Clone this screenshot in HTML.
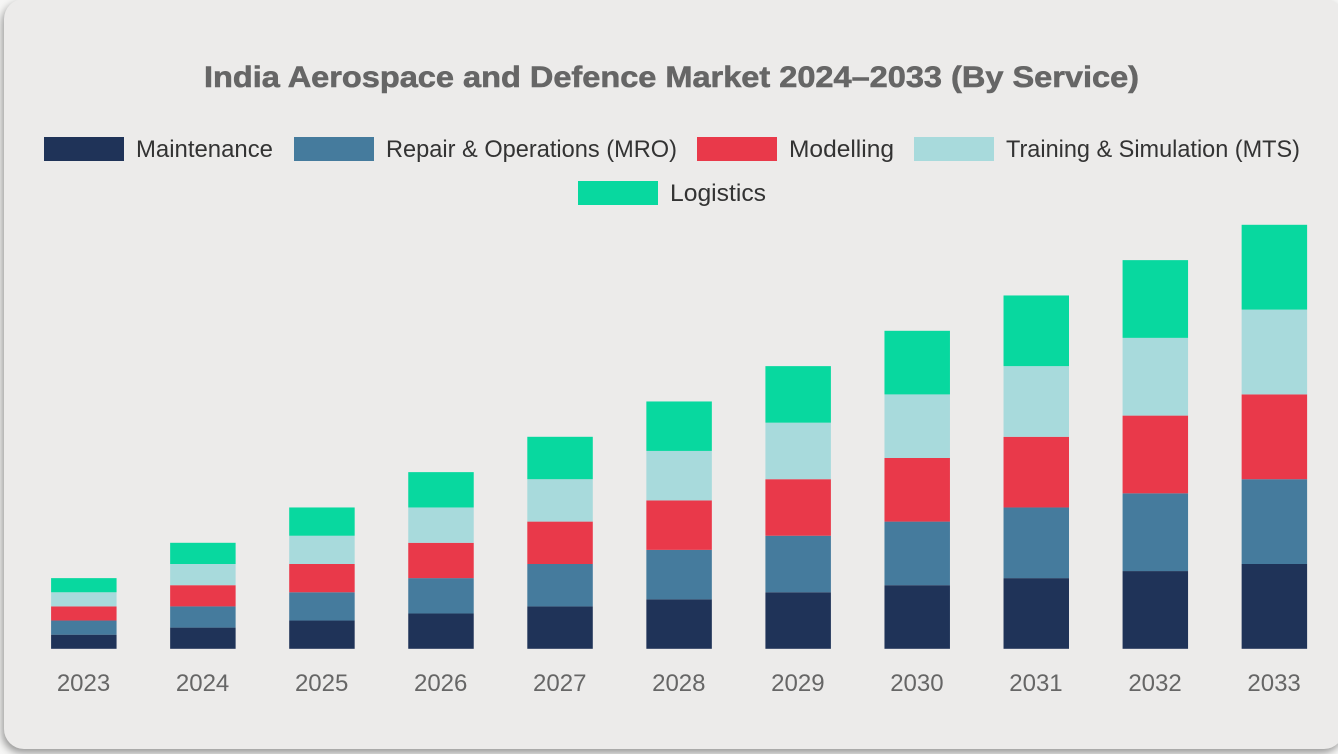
<!DOCTYPE html>
<html lang="en">
<head>
<meta charset="utf-8">
<title>India Aerospace and Defence Market</title>
<style>
html,body{margin:0;padding:0;width:1338px;height:754px;overflow:hidden;background:#fff;}
#wrap{position:relative;width:1338px;height:754px;overflow:hidden;background:#f6f6f5;}
#card{position:absolute;left:4px;top:-1px;width:1340px;height:750px;border-radius:20px;background:#ecebea;box-shadow:-2px 4px 8px rgba(0,0,0,.38);}
svg{position:absolute;left:0;top:0;}
text{font-family:"Liberation Sans",sans-serif;}
</style>
</head>
<body>
<div id="wrap">
<div id="card"></div>
<svg id="chart" width="1338" height="754" viewBox="0 0 1338 754">
<text x="671.5" y="87" text-anchor="middle" font-size="30" font-weight="700" fill="#666666" stroke="#666666" stroke-width="0.6" textLength="935" lengthAdjust="spacingAndGlyphs">India Aerospace and Defence Market 2024–2033 (By Service)</text>
<g id="legend"></g>
<g id="bars"></g>
<g id="xaxis"></g>
</svg>
</div>
<script>
const categories = ['2023','2024','2025','2026','2027','2028','2029','2030','2031','2032','2033'];
const maintenance = [0.2,0.3,0.4,0.5,0.6,0.7,0.8,0.9,1.0,1.1,1.2];
const repairOperations = [0.2,0.3,0.4,0.5,0.6,0.7,0.8,0.9,1.0,1.1,1.2];
const modelling = [0.2,0.3,0.4,0.5,0.6,0.7,0.8,0.9,1.0,1.1,1.2];
const trainingSimulation = [0.2,0.3,0.4,0.5,0.6,0.7,0.8,0.9,1.0,1.1,1.2];
const logistics = [0.2,0.3,0.4,0.5,0.6,0.7,0.8,0.9,1.0,1.1,1.2];
const seriesNames = ['Maintenance','Repair & Operations (MRO)','Modelling','Training & Simulation (MTS)','Logistics'];
const yMax = 6;

const NS = 'http://www.w3.org/2000/svg';
const seriesValues = [maintenance, repairOperations, modelling, trainingSimulation, logistics];
const colors = ['#1f3358','#457b9d','#e9394a','#a8dadc','#08d89f'];
const slugs = ['maintenance','repair-operations','modelling','training-simulation','logistics'];

const plot = {left: 24.3, right: 1333.9, top: 224.8, bottom: 648.8};
const bandWidth = (plot.right - plot.left) / categories.length;
const barWidth = bandWidth * 0.55;
function xScale(i){ return plot.left + bandWidth * (i + 0.5); }
function yScale(v){ return plot.bottom - (v / yMax) * (plot.bottom - plot.top); }

function make(tag, attrs, parent){
  const el = document.createElementNS(NS, tag);
  for (const k in attrs) el.setAttribute(k, attrs[k]);
  parent.appendChild(el);
  return el;
}

const barsGroup = document.getElementById('bars');
categories.forEach(function(cat, i){
  let cum = 0;
  seriesValues.forEach(function(vals, s){
    const y0 = yScale(cum);
    cum += vals[i];
    const y1 = yScale(cum);
    const r = make('rect', {x: xScale(i) - barWidth / 2, y: y1, width: barWidth, height: y0 - y1, fill: colors[s]}, barsGroup);
    
    
  });
});

const axisGroup = document.getElementById('xaxis');
categories.forEach(function(cat, i){
  const t = make('text', {x: xScale(i) - 0.3, y: 691, 'text-anchor': 'middle', 'font-size': 24, fill: '#666666'}, axisGroup);
  t.textContent = cat;
  
  
});

const legendLayout = [
  {sx: 44, sy: 137, tx: 136, ty: 157, len: 137},
  {sx: 294, sy: 137, tx: 386, ty: 157, len: 291},
  {sx: 697, sy: 137, tx: 789, ty: 157, len: 105},
  {sx: 914, sy: 137, tx: 1006, ty: 157, len: 294},
  {sx: 578, sy: 181, tx: 670, ty: 201, len: 96}
];
const legendGroup = document.getElementById('legend');
seriesNames.forEach(function(name, s){
  const p = legendLayout[s];
  const g = make('g', {}, legendGroup);
  
  
  const sw = make('rect', {x: p.sx, y: p.sy, width: 80, height: 24, fill: colors[s]}, g);
  
  
  const t = make('text', {x: p.tx, y: p.ty, 'font-size': 24, fill: '#333333', textLength: p.len, lengthAdjust: 'spacingAndGlyphs'}, g);
  t.textContent = name;
  
  
});
</script>
</body>
</html>
